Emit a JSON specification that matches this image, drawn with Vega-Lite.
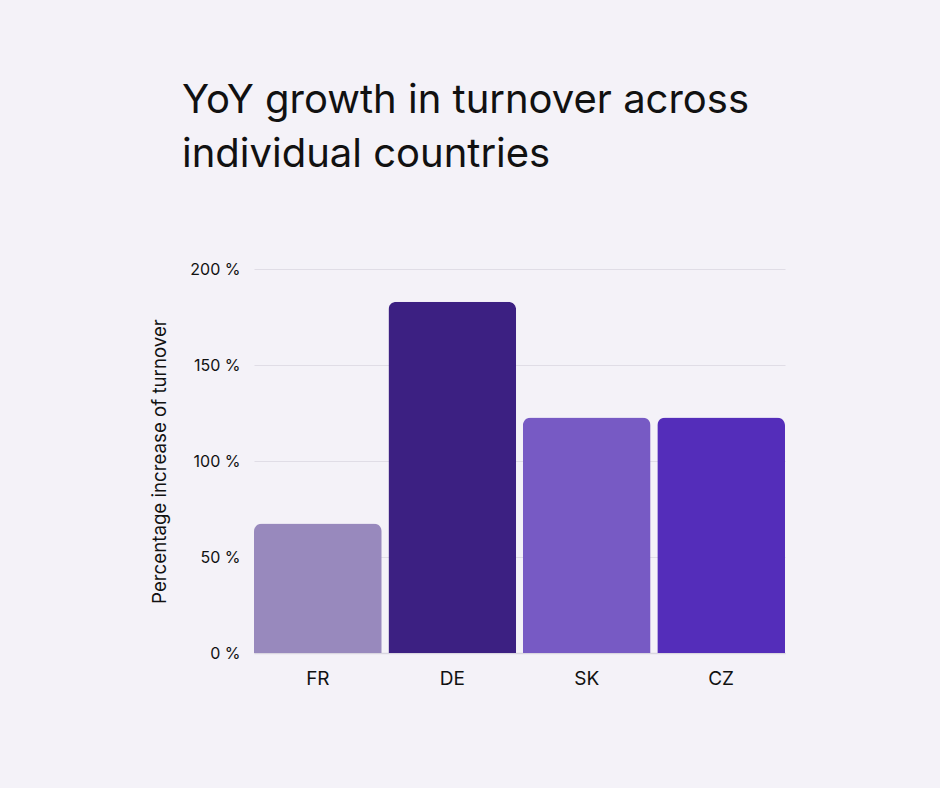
{
  "$schema": "https://vega.github.io/schema/vega-lite/v6.json",
  "width": 531,
  "height": 384,
  "autosize": {"type": "none"},
  "padding": {"left": 254, "top": 269, "right": 155, "bottom": 135},
  "background": "#f4f2f8",
  "title": {
    "text": ["YoY growth in turnover across", "individual countries"],
    "anchor": "start",
    "frame": "group",
    "dx": -72,
    "offset": 86,
    "font": "Inter",
    "fontSize": 40,
    "fontWeight": "normal",
    "color": "#111111",
    "lineHeight": 54
  },
  "data": {
    "values": [
      {"country": "FR", "growth": 67.5},
      {"country": "DE", "growth": 183},
      {"country": "SK", "growth": 122.7},
      {"country": "CZ", "growth": 122.7}
    ]
  },
  "mark": {"type": "bar", "cornerRadiusTopLeft": 8, "cornerRadiusTopRight": 8},
  "encoding": {
    "x": {
      "field": "country",
      "type": "nominal",
      "sort": null,
      "scale": {"paddingInner": 0.05, "paddingOuter": 0},
      "axis": {
        "title": null,
        "labelAngle": 0,
        "labelFont": "Inter",
        "labelFontSize": 19,
        "labelColor": "#111111",
        "labelPadding": 16,
        "ticks": false,
        "domain": true,
        "domainColor": "#d9d6e0",
        "domainWidth": 1.5
      }
    },
    "y": {
      "field": "growth",
      "type": "quantitative",
      "scale": {"domain": [0, 200]},
      "axis": {
        "title": "Percentage increase of turnover",
        "titleFont": "Inter",
        "titleFontSize": 18.7,
        "titleFontWeight": "normal",
        "titleColor": "#111111",
        "titlePadding": 20,
        "values": [0, 50, 100, 150, 200],
        "labelExpr": "datum.value + ' %'",
        "labelFont": "Inter",
        "labelFontSize": 16,
        "labelColor": "#111111",
        "labelPadding": 14,
        "ticks": false,
        "domain": false,
        "gridColor": "#e0dde6",
        "gridWidth": 1
      }
    },
    "color": {
      "field": "country",
      "type": "nominal",
      "scale": {"domain": ["FR", "DE", "SK", "CZ"], "range": ["#9889bd", "#3c2082", "#775ac4", "#542dba"]},
      "legend": null
    }
  },
  "config": {"view": {"stroke": null}}
}
